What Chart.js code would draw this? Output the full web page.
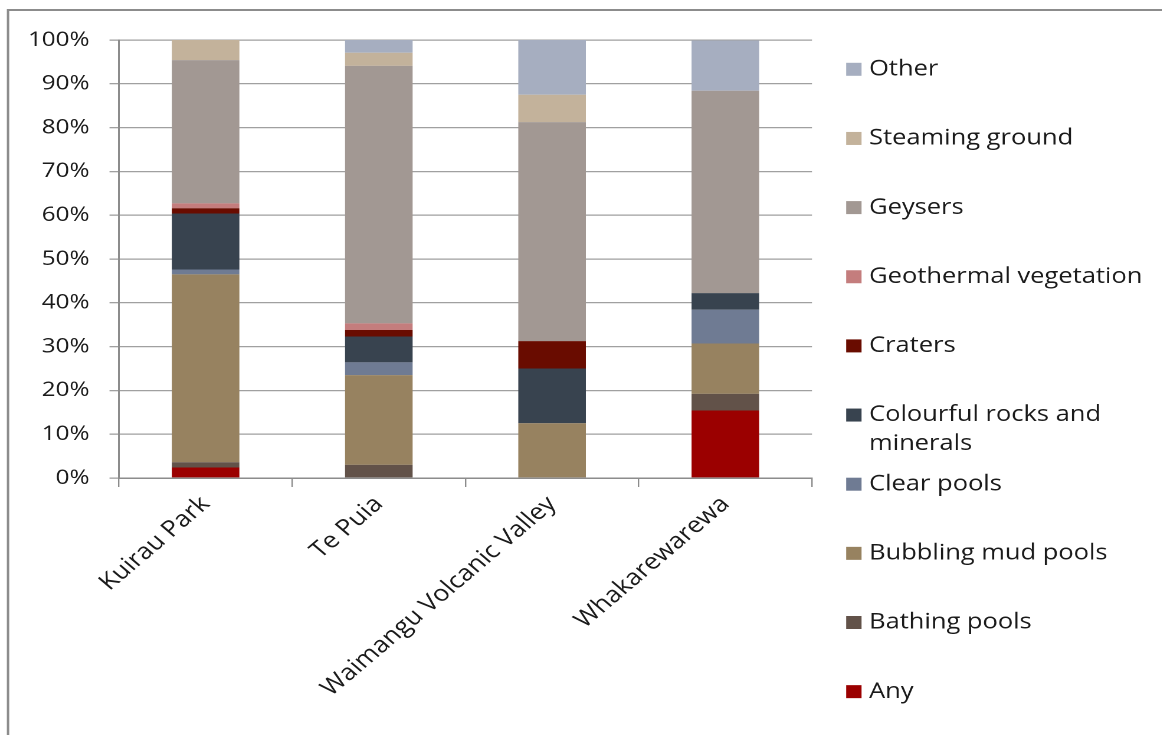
<!DOCTYPE html>
<html>
<head>
<meta charset="utf-8">
<script src="https://cdn.jsdelivr.net/npm/chart.js@4/dist/chart.umd.min.js"></script>
<style>
  html, body { margin: 0; padding: 0; background: #fff; overflow: hidden; }
  /* the chart is laid out on a narrower canvas and widened horizontally */
  #wrap { width: 985px; height: 735px; transform: scaleX(1.18); transform-origin: 0 0; }
</style>
</head>
<body>
<div id="wrap"><canvas id="c" width="985" height="735"></canvas></div>
<script>
// Sites
const categories = ['Kuirau Park', 'Te Puia', 'Waimangu Volcanic Valley', 'Whakarewarewa'];

// Share of responses per feature (%), stacked bottom to top
const anyFeature   = [2.4, 0,    0,    15.4];
const bathingPools = [1.2, 3.0,  0,    3.8];
const bubblingMud  = [42.9, 20.5, 12.5, 11.5];
const clearPools   = [1.1, 2.9,  0,    7.7];
const colourful    = [12.8, 5.9, 12.5, 3.8];
const craters      = [1.2, 1.5,  6.25, 0];
const geoVegetation= [1.1, 1.5,  0,    0];
const geysers      = [32.7, 58.8, 50.0, 46.2];
const steaming     = [4.6, 3.0,  6.25, 0];
const other        = [0,   2.9,  12.5, 11.5];

// Value axis ticks
const yTicks = [0, 10, 20, 30, 40, 50, 60, 70, 80, 90, 100];

const seriesNames = ['Any', 'Bathing pools', 'Bubbling mud pools', 'Clear pools',
  'Colourful rocks and minerals', 'Craters', 'Geothermal vegetation', 'Geysers',
  'Steaming ground', 'Other'];
const seriesValues = [anyFeature, bathingPools, bubblingMud, clearPools, colourful,
  craters, geoVegetation, geysers, steaming, other];
const seriesColours = ['#9b0000', '#625249', '#978260', '#6f7b93', '#38434f',
  '#690c00', '#c47d7d', '#a29893', '#c3b29b', '#a6aec0'];

const FONT = '"Open Sans", "Noto Sans", sans-serif';
const TEXT = '#1a1a1a';

// White background and the grey frame along the top and left edges
const framePlugin = {
  id: 'frame',
  beforeDraw(chart) {
    const ctx = chart.ctx;
    ctx.save();
    ctx.fillStyle = '#ffffff';
    ctx.fillRect(0, 0, chart.width, chart.height);
    ctx.strokeStyle = '#8c8c8c';
    ctx.lineWidth = 2;
    ctx.beginPath();
    ctx.moveTo(6.8, chart.height);
    ctx.lineTo(6.8, 10);
    ctx.lineTo(chart.width, 10);
    ctx.stroke();
    ctx.restore();
  }
};

// Legend on the right, top series first, long names wrapped
const sideLegend = {
  id: 'sideLegend',
  afterDraw(chart) {
    const ctx = chart.ctx;
    const ds = chart.data.datasets;
    const x0 = chart.chartArea.right + 29;
    const textX = x0 + 19.4;
    const maxW = 245;
    ctx.save();
    ctx.font = '21.6px ' + FONT;
    ctx.textBaseline = 'middle';
    ctx.textAlign = 'left';
    for (let i = 0; i < ds.length; i++) {
      const d = ds[ds.length - 1 - i];
      const cy = 69.3 + i * 69.15;
      ctx.fillStyle = d.backgroundColor;
      ctx.fillRect(x0, cy - 6.5, 13, 13);
      // wrap words to the available width
      const words = d.label.split(' ');
      const lines = [];
      let line = '';
      for (const w of words) {
        const test = line ? line + ' ' + w : w;
        if (line && ctx.measureText(test).width > maxW) { lines.push(line); line = w; }
        else line = test;
      }
      lines.push(line);
      ctx.fillStyle = TEXT;
      lines.forEach((t, j) => ctx.fillText(t, textX, cy + j * 29));
    }
    ctx.restore();
  }
};

new Chart(document.getElementById('c'), {
  type: 'bar',
  data: {
    labels: categories,
    datasets: seriesNames.map((name, i) => ({
      label: name,
      data: seriesValues[i],
      backgroundColor: seriesColours[i],
      borderWidth: 0,
      barPercentage: 0.39,
      categoryPercentage: 1.0
    }))
  },
  options: {
    responsive: false,
    animation: false,
    devicePixelRatio: 2,
    layout: { padding: { top: 40, right: 296.9, bottom: 0, left: 0 } },
    plugins: { legend: { display: false }, tooltip: { enabled: false } },
    scales: {
      x: {
        stacked: true,
        grid: { offset: true, drawOnChartArea: false, drawTicks: true, tickLength: 9, color: '#8c8c8c', lineWidth: 1.2 },
        border: { color: '#8c8c8c', width: 1.5 },
        ticks: { font: { family: FONT, size: 22.5 }, color: TEXT, maxRotation: 45, minRotation: 45, autoSkip: false, padding: 4 },
        afterFit(s) { s.height = 257; }
      },
      y: {
        stacked: true,
        min: 0,
        max: 100,
        afterBuildTicks(s) { s.ticks = yTicks.map(v => ({ value: v })); },
        ticks: { callback: v => v + '%', font: { family: FONT, size: 20.5 }, color: TEXT, padding: 17 },
        grid: { color: '#a0a0a0', lineWidth: 1.3, tickLength: 8 },
        border: { color: '#8c8c8c', width: 1.5 },
        afterFit(s) { s.width = 100.8; }
      }
    }
  },
  plugins: [framePlugin, sideLegend]
});
</script>
</body>
</html>
